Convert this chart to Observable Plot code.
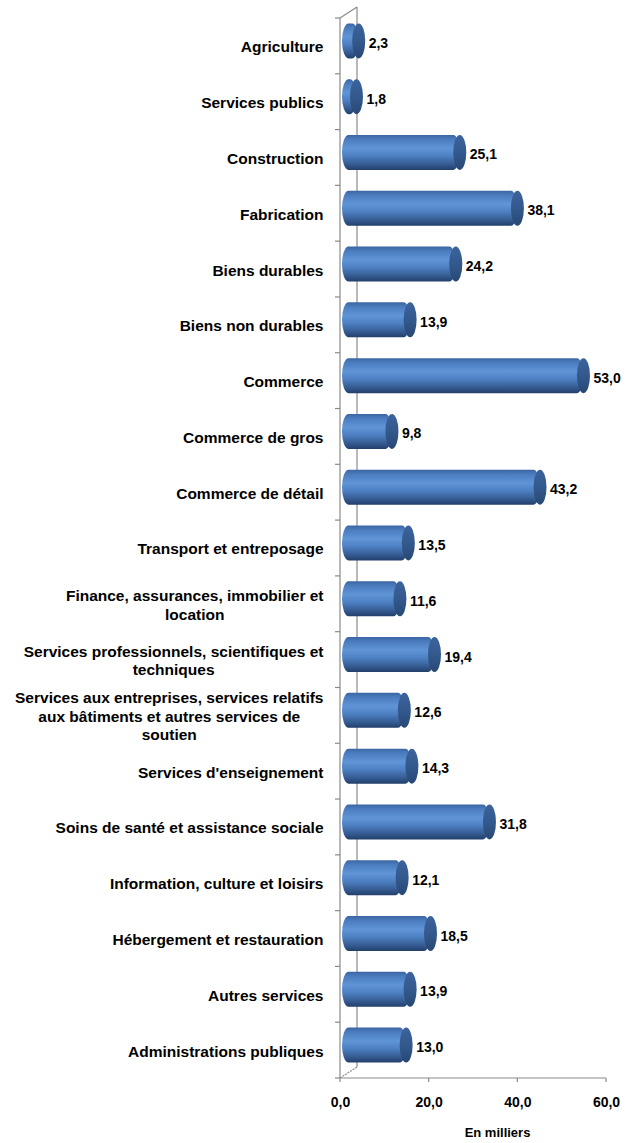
<!DOCTYPE html>
<html>
<head>
<meta charset="utf-8">
<script src="https://cdn.jsdelivr.net/npm/d3@7"></script>
<script src="https://cdn.jsdelivr.net/npm/@observablehq/plot@0.6"></script>
<style>
  html, body { margin: 0; padding: 0; background: #fff; }
  #chart svg { display: block; }
</style>
</head>
<body>
<div id="chart"></div>
<script>
const categories = [
  "Agriculture",
  "Services publics",
  "Construction",
  "Fabrication",
  "Biens durables",
  "Biens non durables",
  "Commerce",
  "Commerce de gros",
  "Commerce de détail",
  "Transport et entreposage",
  "Finance, assurances, immobilier et\nlocation",
  "Services professionnels, scientifiques et\ntechniques",
  "Services aux entreprises, services relatifs\naux bâtiments et autres services de\nsoutien",
  "Services d'enseignement",
  "Soins de santé et assistance sociale",
  "Information, culture et loisirs",
  "Hébergement et restauration",
  "Autres services",
  "Administrations publiques"
];
const values = [2.3, 1.8, 25.1, 38.1, 24.2, 13.9, 53.0, 9.8, 43.2, 13.5, 11.6, 19.4, 12.6, 14.3, 31.8, 12.1, 18.5, 13.9, 13.0];
const xTicks = [0, 20, 40, 60];
const axisTitle = "En milliers";

const data = categories.map((c, i) => ({category: c, value: values[i]}));
const fmt = v => v.toFixed(1).replace(".", ",");

const depthX = 17, depthY = 11;   // 3D depth of the plot box
const shiftX = 8.5, shiftY = -5;  // bars sit at mid-depth
const capRx = 6.5, capRy = 17.5;

function frame3d(index, scales, vals, dims) {
  const x0 = scales.x(0), x1 = scales.x(60);
  const yT = dims.marginTop, yB = dims.height - dims.marginBottom;
  const g = d3.create("svg:g").attr("fill", "none").attr("stroke", "#8a8a8a").attr("stroke-width", 1.2);
  g.append("line").attr("x1", x0 + depthX).attr("x2", x0 + depthX).attr("y1", yT - depthY).attr("y2", yB - depthY);
  g.append("line").attr("x1", x0).attr("x2", x0 + depthX).attr("y1", yT).attr("y2", yT - depthY);
  g.append("line").attr("x1", x0).attr("x2", x0 + depthX).attr("y1", yB).attr("y2", yB - depthY).attr("stroke-dasharray", "2,1");
  g.append("line").attr("x1", x0).attr("x2", x0).attr("y1", yT).attr("y2", yB);
  g.append("line").attr("x1", x0).attr("x2", x1).attr("y1", yB).attr("y2", yB);
  const bounds = categories.map(c => scales.y(c)).concat([yB]);
  for (const y of bounds) g.append("line").attr("x1", x0 - 5).attr("x2", x0).attr("y1", y).attr("y2", y);
  for (const t of xTicks) g.append("line").attr("x1", scales.x(t)).attr("x2", scales.x(t)).attr("y1", yB).attr("y2", yB + 4);
  return g.node();
}

const chart = Plot.plot({
  width: 638,
  height: 1143,
  marginLeft: 340,
  marginRight: 32,
  marginTop: 18,
  marginBottom: 65,
  style: {fontFamily: "'Liberation Sans', Arial, sans-serif", color: "#000", background: "#fff"},
  x: {domain: [0, 60], axis: null},
  y: {domain: categories, padding: 0, round: false, axis: null},
  marks: [
    frame3d,
    Plot.barX(data, {
      x1: 0, x2: "value", y: "category",
      fill: "url(#cylBody)",
      insetLeft: -capRx, insetTop: 10.4, insetBottom: 10.4,
      dx: shiftX, dy: shiftY, rx: capRx, ry: capRy
    }),
    Plot.barX(data, {
      x1: "value", x2: "value", y: "category",
      fill: "url(#cylCap)",
      insetLeft: -capRx, insetRight: -capRx, insetTop: 10.4, insetBottom: 10.4,
      dx: shiftX, dy: shiftY, rx: capRx, ry: capRy
    }),
    Plot.text(data, {
      x: "value", y: "category", text: d => fmt(d.value),
      textAnchor: "start", dx: 18, dy: -3,
      fontSize: 14, fontWeight: "bold", fill: "#000"
    }),
    Plot.axisY({
      tickSize: 0, tickPadding: 17, fontSize: 15.5, fontWeight: "bold",
      lineHeight: 1.2, label: null, fill: "#000"
    }),
    Plot.axisX(xTicks, {
      tickSize: 0, tickPadding: 19, fontSize: 14, fontWeight: "bold",
      tickFormat: fmt, label: null, fill: "#000"
    }),
    Plot.text([axisTitle], {
      frameAnchor: "bottom", dx: 24, dy: 58, fontSize: 13, fontWeight: "bold", fill: "#000"
    })
  ]
});

chart.insertAdjacentHTML("afterbegin", `
<defs>
  <linearGradient id="cylBody" x1="0" y1="0" x2="0" y2="1">
    <stop offset="0" stop-color="#3b65a2"/>
    <stop offset="0.12" stop-color="#4a7bbd"/>
    <stop offset="0.38" stop-color="#5f95d7"/>
    <stop offset="0.6" stop-color="#4d80c2"/>
    <stop offset="0.85" stop-color="#34598f"/>
    <stop offset="1" stop-color="#223f6a"/>
  </linearGradient>
  <linearGradient id="cylCap" x1="0" y1="0" x2="0" y2="1">
    <stop offset="0" stop-color="#3c639c"/>
    <stop offset="0.5" stop-color="#33598d"/>
    <stop offset="1" stop-color="#284874"/>
  </linearGradient>
</defs>`);

document.getElementById("chart").appendChild(chart);

chart.querySelectorAll("text").forEach(t => {
  const spans = t.querySelectorAll("tspan");
  if (spans.length > 1) {
    let w = 0;
    spans.forEach(s => { w = Math.max(w, s.getComputedTextLength()); });
    t.setAttribute("text-anchor", "middle");
    spans.forEach(s => s.setAttribute("x", -w / 2));
  }
});
</script>
</body>
</html>
